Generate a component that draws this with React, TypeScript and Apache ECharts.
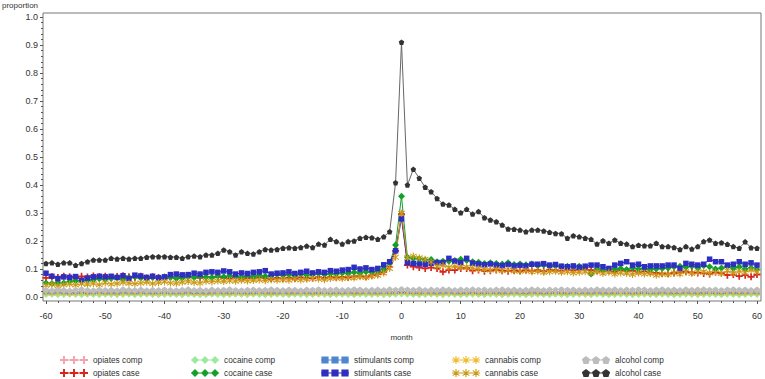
import React, { useEffect, useRef } from "react";
import * as echarts from "echarts";

// months -60 .. 60
const months: number[] = Array.from({ length: 121 }, (_, i) => i - 60);

const opiatesComp = [
  0.012,0.011,0.013,0.012,0.010,0.012,0.013,0.011,0.012,0.013,
  0.011,0.012,0.010,0.013,0.012,0.011,0.013,0.012,0.011,0.012,
  0.013,0.012,0.011,0.012,0.013,0.011,0.012,0.010,0.012,0.013,
  0.012,0.011,0.013,0.012,0.011,0.012,0.013,0.012,0.011,0.012,
  0.013,0.011,0.012,0.013,0.012,0.011,0.012,0.013,0.011,0.012,
  0.012,0.013,0.011,0.012,0.013,0.012,0.011,0.013,0.012,0.013,
  0.014,
  0.013,0.012,0.011,0.013,0.012,0.011,0.012,0.013,0.012,0.011,
  0.012,0.013,0.011,0.012,0.013,0.012,0.011,0.012,0.013,0.012,
  0.011,0.013,0.012,0.011,0.012,0.013,0.012,0.011,0.013,0.012,
  0.012,0.011,0.013,0.012,0.011,0.012,0.013,0.012,0.011,0.012,
  0.013,0.012,0.011,0.013,0.012,0.011,0.012,0.013,0.012,0.011,
  0.012,0.013,0.012,0.011,0.013,0.012,0.011,0.012,0.013,0.012,
];
const opiatesCase = [
  0.068,0.072,0.070,0.074,0.072,0.070,0.074,0.071,0.075,0.072,
  0.074,0.070,0.073,0.076,0.072,0.069,0.074,0.068,0.072,0.070,
  0.066,0.071,0.069,0.074,0.070,0.072,0.068,0.071,0.070,0.073,
  0.068,0.066,0.070,0.064,0.068,0.066,0.070,0.067,0.065,0.068,
  0.066,0.069,0.066,0.070,0.068,0.067,0.071,0.068,0.072,0.070,
  0.072,0.070,0.074,0.076,0.073,0.078,0.082,0.090,0.108,0.165,
  0.296,
  0.114,0.108,0.105,0.102,0.105,0.102,0.090,0.096,0.096,0.102,
  0.102,0.094,0.096,0.092,0.094,0.096,0.094,0.092,0.095,0.093,
  0.096,0.094,0.097,0.092,0.098,0.096,0.094,0.097,0.095,0.098,
  0.098,0.096,0.094,0.092,0.094,0.090,0.096,0.092,0.094,0.090,
  0.092,0.088,0.086,0.084,0.084,0.086,0.088,0.090,0.088,0.086,
  0.084,0.082,0.088,0.086,0.078,0.080,0.074,0.078,0.072,0.080,
];
const cocaineComp = [
  0.007,0.008,0.006,0.007,0.008,0.007,0.006,0.008,0.007,0.006,
  0.008,0.007,0.006,0.007,0.008,0.006,0.007,0.008,0.007,0.006,
  0.007,0.008,0.007,0.006,0.008,0.007,0.006,0.007,0.008,0.007,
  0.006,0.007,0.008,0.007,0.006,0.008,0.007,0.006,0.007,0.008,
  0.007,0.006,0.008,0.007,0.006,0.007,0.008,0.007,0.006,0.007,
  0.008,0.007,0.006,0.008,0.007,0.007,0.008,0.006,0.007,0.008,
  0.009,
  0.008,0.007,0.006,0.007,0.008,0.007,0.006,0.008,0.007,0.006,
  0.007,0.008,0.007,0.006,0.008,0.007,0.006,0.007,0.008,0.007,
  0.006,0.007,0.008,0.007,0.006,0.008,0.007,0.006,0.007,0.008,
  0.007,0.006,0.008,0.007,0.006,0.007,0.008,0.007,0.006,0.007,
  0.008,0.007,0.006,0.008,0.007,0.006,0.007,0.008,0.007,0.006,
  0.007,0.008,0.007,0.006,0.008,0.007,0.006,0.007,0.008,0.007,
];
const cocaineCase = [
  0.050,0.048,0.052,0.050,0.055,0.058,0.056,0.060,0.062,0.065,
  0.063,0.066,0.068,0.064,0.070,0.072,0.068,0.066,0.070,0.068,
  0.072,0.070,0.066,0.068,0.072,0.070,0.074,0.071,0.070,0.074,
  0.072,0.076,0.074,0.070,0.076,0.073,0.078,0.074,0.076,0.080,
  0.078,0.080,0.076,0.082,0.079,0.081,0.084,0.080,0.083,0.082,
  0.086,0.084,0.088,0.086,0.090,0.088,0.092,0.100,0.121,0.186,
  0.360,
  0.142,0.138,0.136,0.132,0.134,0.126,0.128,0.128,0.130,0.135,
  0.130,0.126,0.124,0.120,0.122,0.120,0.118,0.122,0.116,0.118,
  0.115,0.118,0.112,0.114,0.110,0.112,0.108,0.110,0.108,0.110,
  0.106,0.082,0.100,0.096,0.098,0.100,0.102,0.098,0.104,0.100,
  0.102,0.098,0.100,0.102,0.104,0.108,0.110,0.106,0.110,0.104,
  0.112,0.108,0.100,0.104,0.110,0.102,0.108,0.100,0.104,0.098,
];
const stimulantsComp = [
  0.018,0.017,0.019,0.018,0.016,0.018,0.019,0.017,0.018,0.019,
  0.017,0.018,0.016,0.019,0.018,0.017,0.019,0.018,0.017,0.018,
  0.019,0.018,0.017,0.018,0.019,0.017,0.018,0.016,0.018,0.019,
  0.018,0.017,0.019,0.018,0.017,0.018,0.019,0.018,0.017,0.018,
  0.019,0.017,0.018,0.019,0.018,0.017,0.018,0.019,0.017,0.018,
  0.018,0.019,0.017,0.018,0.019,0.018,0.017,0.019,0.018,0.019,
  0.020,
  0.019,0.018,0.017,0.019,0.018,0.017,0.018,0.019,0.018,0.017,
  0.018,0.019,0.017,0.018,0.019,0.018,0.017,0.018,0.019,0.018,
  0.017,0.019,0.018,0.017,0.018,0.019,0.018,0.017,0.019,0.018,
  0.018,0.017,0.019,0.018,0.017,0.018,0.019,0.018,0.017,0.018,
  0.019,0.018,0.017,0.019,0.018,0.017,0.018,0.019,0.018,0.017,
  0.018,0.019,0.018,0.017,0.019,0.018,0.017,0.018,0.019,0.018,
];
const stimulantsCase = [
  0.085,0.074,0.066,0.072,0.070,0.073,0.060,0.068,0.072,0.074,
  0.072,0.074,0.070,0.076,0.066,0.078,0.075,0.070,0.074,0.069,
  0.072,0.080,0.082,0.079,0.080,0.085,0.082,0.088,0.090,0.088,
  0.093,0.090,0.082,0.086,0.084,0.088,0.090,0.094,0.082,0.085,
  0.086,0.090,0.084,0.088,0.092,0.086,0.090,0.088,0.094,0.092,
  0.096,0.098,0.106,0.100,0.104,0.098,0.102,0.115,0.126,0.165,
  0.279,
  0.123,0.120,0.118,0.117,0.120,0.123,0.123,0.138,0.128,0.123,
  0.138,0.121,0.118,0.115,0.118,0.114,0.112,0.116,0.111,0.113,
  0.111,0.117,0.117,0.119,0.114,0.116,0.110,0.108,0.111,0.106,
  0.110,0.114,0.114,0.108,0.102,0.114,0.120,0.126,0.114,0.117,
  0.108,0.111,0.111,0.111,0.114,0.114,0.102,0.120,0.117,0.114,
  0.117,0.135,0.126,0.126,0.114,0.117,0.126,0.117,0.122,0.114,
];
const cannabisComp = [
  0.014,0.013,0.015,0.014,0.012,0.014,0.015,0.013,0.014,0.015,
  0.013,0.014,0.012,0.015,0.014,0.013,0.015,0.014,0.013,0.014,
  0.015,0.014,0.013,0.014,0.015,0.013,0.014,0.012,0.014,0.015,
  0.014,0.013,0.015,0.014,0.013,0.014,0.015,0.014,0.013,0.014,
  0.015,0.013,0.014,0.015,0.014,0.013,0.014,0.015,0.013,0.014,
  0.014,0.015,0.013,0.014,0.015,0.014,0.013,0.015,0.014,0.015,
  0.016,
  0.015,0.014,0.013,0.015,0.014,0.013,0.014,0.015,0.014,0.013,
  0.014,0.015,0.013,0.014,0.015,0.014,0.013,0.014,0.015,0.014,
  0.013,0.015,0.014,0.013,0.014,0.015,0.014,0.013,0.015,0.014,
  0.014,0.013,0.015,0.014,0.013,0.014,0.015,0.014,0.013,0.014,
  0.015,0.014,0.013,0.015,0.014,0.013,0.014,0.015,0.014,0.013,
  0.014,0.015,0.014,0.013,0.015,0.014,0.013,0.014,0.015,0.014,
];
const cannabisCase = [
  0.042,0.045,0.040,0.044,0.046,0.043,0.047,0.045,0.048,0.044,
  0.050,0.046,0.048,0.052,0.049,0.047,0.050,0.053,0.048,0.051,
  0.054,0.050,0.049,0.053,0.055,0.052,0.050,0.056,0.054,0.057,
  0.055,0.058,0.056,0.060,0.057,0.059,0.061,0.058,0.062,0.060,
  0.062,0.060,0.064,0.061,0.063,0.066,0.064,0.062,0.066,0.068,
  0.066,0.069,0.068,0.072,0.070,0.074,0.078,0.086,0.102,0.142,
  0.299,
  0.140,0.146,0.140,0.135,0.125,0.110,0.112,0.106,0.110,0.106,
  0.106,0.104,0.100,0.098,0.096,0.098,0.094,0.096,0.093,0.092,
  0.094,0.090,0.092,0.088,0.090,0.092,0.088,0.090,0.086,0.088,
  0.090,0.086,0.090,0.084,0.088,0.082,0.086,0.084,0.080,0.086,
  0.082,0.084,0.078,0.082,0.080,0.086,0.082,0.090,0.084,0.088,
  0.090,0.086,0.088,0.084,0.094,0.086,0.092,0.088,0.096,0.090,
];
const alcoholComp = [
  0.026,0.024,0.027,0.025,0.023,0.026,0.028,0.025,0.024,0.027,
  0.025,0.026,0.024,0.028,0.026,0.025,0.027,0.024,0.026,0.025,
  0.027,0.025,0.024,0.026,0.028,0.025,0.026,0.024,0.027,0.025,
  0.026,0.028,0.025,0.024,0.026,0.027,0.025,0.026,0.028,0.026,
  0.025,0.027,0.026,0.024,0.027,0.026,0.028,0.025,0.026,0.027,
  0.025,0.026,0.028,0.027,0.025,0.026,0.027,0.025,0.028,0.026,
  0.029,
  0.027,0.026,0.028,0.025,0.027,0.026,0.028,0.027,0.025,0.027,
  0.026,0.028,0.026,0.027,0.025,0.027,0.028,0.026,0.027,0.025,
  0.026,0.028,0.027,0.025,0.027,0.026,0.028,0.026,0.027,0.025,
  0.027,0.026,0.028,0.027,0.026,0.028,0.025,0.027,0.026,0.028,
  0.027,0.025,0.027,0.028,0.026,0.027,0.025,0.028,0.026,0.027,
  0.028,0.026,0.027,0.025,0.027,0.028,0.026,0.027,0.025,0.027,
];
const alcoholCase = [
  0.120,0.122,0.117,0.122,0.122,0.113,0.120,0.126,0.132,0.132,
  0.132,0.138,0.136,0.138,0.136,0.138,0.138,0.142,0.144,0.144,
  0.144,0.142,0.142,0.138,0.144,0.146,0.144,0.150,0.150,0.156,
  0.168,0.162,0.150,0.162,0.156,0.154,0.162,0.170,0.168,0.170,
  0.174,0.176,0.174,0.177,0.182,0.177,0.189,0.186,0.206,0.198,
  0.189,0.198,0.200,0.210,0.213,0.212,0.206,0.215,0.233,0.408,
  0.910,
  0.400,0.456,0.424,0.392,0.376,0.352,0.332,0.329,0.313,0.301,
  0.313,0.296,0.305,0.283,0.275,0.269,0.257,0.243,0.242,0.239,
  0.233,0.239,0.239,0.236,0.231,0.227,0.226,0.210,0.219,0.215,
  0.210,0.206,0.189,0.201,0.192,0.204,0.192,0.189,0.180,0.185,
  0.183,0.183,0.192,0.180,0.180,0.177,0.170,0.180,0.171,0.180,
  0.198,0.204,0.192,0.194,0.188,0.180,0.174,0.197,0.176,0.174,
];

const FONT = "'Liberation Sans', Arial, sans-serif";

const plus = (o: number) =>
  `M${o + 3.8},0H${o + 6.2}V3.8H${o + 10}V6.2H${o + 6.2}V10H${o + 3.8}V6.2H${o}V3.8H${o + 3.8}Z`;
const diamond = (o: number) => `M${o + 5},0L${o + 10},5L${o + 5},10L${o},5Z`;
const square = (o: number) => `M${o + 0.5},0.5H${o + 9.5}V9.5H${o + 0.5}Z`;
const pentagon = (o: number) =>
  `M${o + 5},0L${o + 10},3.8L${o + 8.1},10H${o + 1.9}L${o},3.8Z`;
const star = (o: number) =>
  `M${o + 4.3},0H${o + 5.7}V10H${o + 4.3}Z` +
  `M${o + 0.5},2.3L${o + 1.2},1.1L${o + 9.5},7.7L${o + 8.8},8.9Z` +
  `M${o + 0.5},7.7L${o + 8.8},1.1L${o + 9.5},2.3L${o + 1.2},8.9Z`;

const legendIcon = (f: (o: number) => string) =>
  "path://M0,4.5H35V5.5H0Z" + f(0) + f(12.5) + f(25);

const seriesDefs = [
  { name: "opiates comp", data: opiatesComp, color: "#F4A3AE", shape: plus, size: 6 },
  { name: "opiates case", data: opiatesCase, color: "#D8241C", shape: plus, size: 7 },
  { name: "cocaine comp", data: cocaineComp, color: "#9BEA9F", shape: diamond, size: 6 },
  { name: "cocaine case", data: cocaineCase, color: "#13A02A", shape: diamond, size: 7 },
  { name: "stimulants comp", data: stimulantsComp, color: "#4F87CF", shape: square, size: 5 },
  { name: "stimulants case", data: stimulantsCase, color: "#2E2EC0", shape: square, size: 5.5 },
  { name: "cannabis comp", data: cannabisComp, color: "#EEBB2A", shape: star, size: 6 },
  { name: "cannabis case", data: cannabisCase, color: "#CC9A14", shape: star, size: 7 },
  { name: "alcohol comp", data: alcoholComp, color: "#BDBDBD", shape: pentagon, size: 6 },
  { name: "alcohol case", data: alcoholCase, color: "#333333", shape: pentagon, size: 5.5 },
];

const legendColumns = [
  ["opiates comp", "opiates case"],
  ["cocaine comp", "cocaine case"],
  ["stimulants comp", "stimulants case"],
  ["cannabis comp", "cannabis case"],
  ["alcohol comp", "alcohol case"],
];
const legendLefts = [60, 191, 321, 452, 582];

export default function App() {
  const ref = useRef<HTMLDivElement>(null);
  useEffect(() => {
    if (!ref.current) return;
    const chart = echarts.init(ref.current, undefined, { renderer: "svg" });
    const axisColor = "#555";
    chart.setOption({
      animation: false,
      backgroundColor: "#fff",
      textStyle: { fontFamily: FONT },
      title: {
        text: "proportion",
        left: 0,
        top: 0,
        padding: [1, 2],
        textStyle: { fontSize: 8, fontWeight: "normal", color: "#333", fontFamily: FONT },
      },
      grid: [
        { left: 46, right: 6, top: 17, bottom: 82, show: false },
        {
          left: 43, right: 4, top: 13, bottom: 78, show: true,
          borderColor: "#777", borderWidth: 1, backgroundColor: "transparent",
        },
      ],
      xAxis: [
        {
          type: "value", gridIndex: 0, min: -60, max: 60, interval: 10, offset: 4,
          axisLine: { show: false, onZero: false },
          axisTick: { show: true, length: 3, lineStyle: { color: axisColor } },
          minorTick: { show: true, splitNumber: 5, length: 2, lineStyle: { color: axisColor } },
          splitLine: { show: false },
          axisLabel: { margin: 10, fontSize: 9, color: "#333", fontFamily: FONT },
          name: "month", nameLocation: "middle", nameGap: 32,
          nameTextStyle: { fontSize: 8, color: "#333", fontFamily: FONT },
        },
        { type: "value", gridIndex: 1, show: false, min: 0, max: 1 },
      ],
      yAxis: [
        {
          type: "value", gridIndex: 0, min: 0, max: 1, interval: 0.1, offset: 3,
          axisLine: { show: false, onZero: false },
          axisTick: { show: true, length: 3, lineStyle: { color: axisColor } },
          minorTick: { show: true, splitNumber: 5, length: 2, lineStyle: { color: axisColor } },
          splitLine: { show: false },
          axisLabel: {
            margin: 5, fontSize: 9, color: "#333", fontFamily: FONT,
            formatter: (v: number) => v.toFixed(1),
          },
        },
        { type: "value", gridIndex: 1, show: false, min: 0, max: 1 },
      ],
      legend: legendColumns.map((names, i) => ({
        data: names.map((n) => {
          const d = seriesDefs.find((s) => s.name === n)!;
          return { name: n, icon: legendIcon(d.shape) };
        }),
        orient: "vertical",
        left: legendLefts[i],
        top: 355,
        padding: 0,
        itemWidth: 28,
        itemHeight: 8,
        itemGap: 3,
        selectedMode: false,
        textStyle: { fontSize: 8.3, color: "#333", fontFamily: FONT, lineHeight: 10 },
      })),
      series: seriesDefs.map((s) => ({
        name: s.name,
        type: "line",
        xAxisIndex: 0,
        yAxisIndex: 0,
        data: months.map((m, i) => [m, s.data[i]]),
        symbol: "path://" + s.shape(0),
        symbolSize: s.size,
        showAllSymbol: true,
        itemStyle: { color: s.color },
        lineStyle: { color: s.name === "alcohol case" ? "#666" : s.color, width: 1 },
        emphasis: { disabled: true },
      })),
    });
    return () => chart.dispose();
  }, []);
  return (
    <div
      ref={ref}
      style={{ position: "fixed", left: 0, top: 0, width: 765, height: 379 }}
    />
  );
}
